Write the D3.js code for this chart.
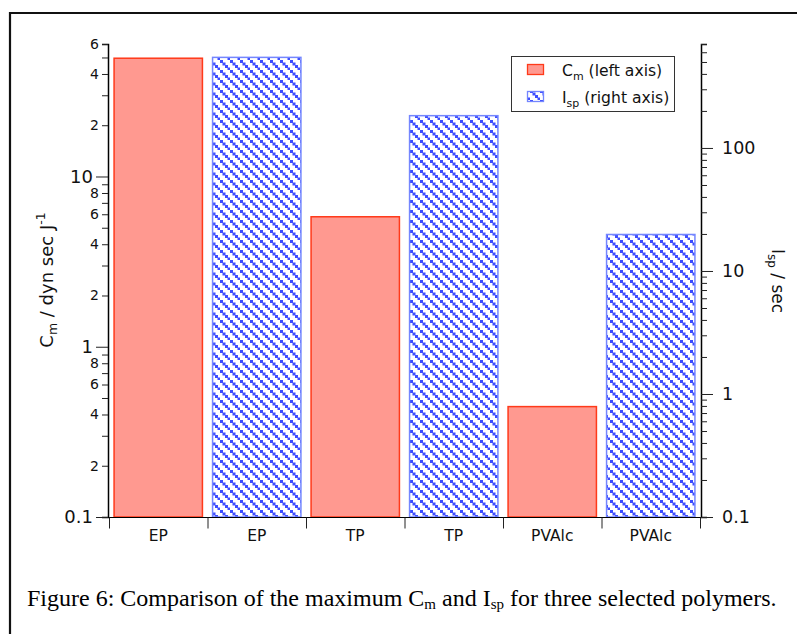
<!DOCTYPE html>
<html>
<head>
<meta charset="utf-8">
<script src="https://cdn.jsdelivr.net/npm/d3@7"></script>
<style>
  html, body { margin: 0; padding: 0; background: #fff; }
  svg { display: block; }
</style>
</head>
<body>
<svg id="chart" width="797" height="634"></svg>
<script>
// ---- data ----
const polymers = ["EP", "TP", "PVAlc"];
const cmValues = [49.5, 5.8, 0.445];      // left axis, dyn sec J^-1
const ispValues = [545, 183, 19.8];       // right axis, sec
const leftMajorTicks = [0.1, 1, 10];
const leftMinorLabeled = [2, 4, 6, 8];
const rightMajorTicks = [0.1, 1, 10, 100];
const captionText = ["Figure 6: Comparison of the maximum C", "m", " and I", "sp", " for three selected polymers."];

// categories: each polymer twice (Cm bar then Isp bar)
const bars = [];
polymers.forEach((p, i) => {
  bars.push({ label: p, series: "cm", value: cmValues[i] });
  bars.push({ label: p, series: "isp", value: ispValues[i] });
});

const svg = d3.select("#chart");
const FONT = "'DejaVu Sans', 'Liberation Sans', sans-serif";

const plot = { left: 108, right: 701, top: 44, bottom: 517 };

const x = d3.scaleBand().domain(d3.range(bars.length))
  .range([plot.left + 1, plot.right - 1]).paddingInner(0.103).paddingOuter(0.0515);
const xEdges = d3.scaleLinear().domain([0, bars.length]).range([plot.left + 1, plot.right - 1]);
const yL = d3.scaleLog().domain([0.1, 60]).range([plot.bottom, plot.top]);
const yR = d3.scaleLog().domain([0.1, 700]).range([plot.bottom, plot.top]);

// hatch pattern
const defs = svg.append("defs");
const pat = defs.append("pattern").attr("id", "hatch").attr("patternUnits", "userSpaceOnUse")
  .attr("width", 10).attr("height", 10);
pat.append("rect").attr("width", 10).attr("height", 10).attr("fill", "#fff");
[-2.5, 0, 2.5, 5, 7.5].forEach(o => pat.append("rect").attr("x", o).attr("y", o).attr("width", 3).attr("height", 3)
  .attr("fill", "#3c4cff"));

// frame
svg.append("path").attr("d", "M10,640 L10,13 L800,13").attr("fill", "none")
  .attr("stroke", "#111").attr("stroke-width", 2.2);

// bars
const barColor = { cm: { fill: "#ff9990", stroke: "#ff3a1a" }, isp: { fill: "url(#hatch)", stroke: "#7486ff" } };
svg.append("g").selectAll("rect").data(bars).join("rect")
  .attr("x", (d, i) => x(i))
  .attr("width", x.bandwidth())
  .attr("y", d => (d.series === "cm" ? yL : yR)(d.value))
  .attr("height", d => plot.bottom - (d.series === "cm" ? yL : yR)(d.value))
  .attr("fill", d => barColor[d.series].fill)
  .attr("stroke", d => barColor[d.series].stroke)
  .attr("stroke-width", 1.5);

// left axis
function logTicks(dom) {
  const t = [];
  for (let e = -1; e < 4; e++) for (let m = 1; m < 10; m++) {
    const v = +(m * Math.pow(10, e)).toPrecision(3);
    if (v >= dom[0] - 1e-9 && v <= dom[1] + 1e-9) t.push(v);
  }
  return t;
}
const isMajor = (v, majors) => majors.some(m => Math.abs(m - v) / m < 1e-6);
const leadDigit = v => Math.round(v / Math.pow(10, Math.floor(Math.log10(v) + 1e-9)));

const gL = svg.append("g").attr("transform", `translate(${plot.left},0)`)
  .call(d3.axisLeft(yL).tickValues(logTicks(yL.domain())).tickSize(6).tickPadding(3)
    .tickFormat(v => isMajor(v, leftMajorTicks) ? String(v) :
      (leftMinorLabeled.includes(leadDigit(v)) ? String(leadDigit(v)) : "")));
gL.select(".domain").attr("stroke", "#000").attr("stroke-width", 1.5);
gL.selectAll(".tick line").attr("stroke", "#222");
gL.selectAll(".tick").filter(v => isMajor(v, leftMajorTicks)).select("line").attr("x2", -12);
gL.selectAll(".tick text").attr("font-family", FONT).attr("fill", "#111").attr("font-size", 14);
gL.selectAll(".tick").filter(v => isMajor(v, leftMajorTicks)).select("text")
  .attr("font-size", 18).attr("x", -15);

// right axis
const gR = svg.append("g").attr("transform", `translate(${plot.right},0)`)
  .call(d3.axisRight(yR).tickValues(logTicks(yR.domain())).tickSize(6).tickPadding(9)
    .tickFormat(v => isMajor(v, rightMajorTicks) ? String(v) : ""));
gR.select(".domain").attr("stroke", "#000").attr("stroke-width", 1.5);
gR.selectAll(".tick line").attr("stroke", "#222");
gR.selectAll(".tick").filter(v => isMajor(v, rightMajorTicks)).select("line").attr("x2", 12);
gR.selectAll(".tick text").attr("font-family", FONT).attr("fill", "#111").attr("font-size", 17.5);
gR.selectAll(".tick").filter(v => isMajor(v, rightMajorTicks)).select("text").attr("x", 21);

// bottom axis: labels at band centres, ticks at band edges
const gB = svg.append("g").attr("transform", `translate(0,${plot.bottom + 0.5})`)
  .call(d3.axisBottom(x).tickSize(0).tickPadding(12).tickFormat(i => bars[i].label));
gB.select(".domain").attr("d", `M${plot.left},0H${plot.right}`).attr("stroke", "#000").attr("stroke-width", 1.2);
gB.selectAll(".tick text").attr("font-family", FONT).attr("font-size", 15.5).attr("fill", "#111");
svg.append("g").attr("transform", `translate(0,${plot.bottom + 0.5})`)
  .call(d3.axisBottom(xEdges).tickValues(d3.range(bars.length + 1)).tickSize(11).tickFormat(""))
  .call(g => g.select(".domain").remove())
  .selectAll(".tick line").attr("stroke", "#222");

// axis titles
const tL = svg.append("text").attr("font-family", FONT).attr("font-size", 18).attr("fill", "#111")
  .attr("text-anchor", "middle").attr("transform", "translate(53,280) rotate(-90)");
tL.append("tspan").text("C");
tL.append("tspan").attr("font-size", 12.5).attr("dy", 4).text("m");
tL.append("tspan").attr("dy", -4).text(" / dyn sec J");
tL.append("tspan").attr("font-size", 12.5).attr("dy", -8).text("-1");

const tR = svg.append("text").attr("font-family", FONT).attr("font-size", 17).attr("fill", "#111")
  .attr("text-anchor", "middle").attr("transform", "translate(772,281) rotate(90)");
tR.append("tspan").text("I");
tR.append("tspan").attr("font-size", 12).attr("dy", 4).text("sp");
tR.append("tspan").attr("dy", -4).text(" / sec");

// legend
const lg = svg.append("g");
lg.append("rect").attr("x", 511.5).attr("y", 56.5).attr("width", 163).attr("height", 55)
  .attr("fill", "#fff").attr("stroke", "#333").attr("stroke-width", 1);
const legendItems = [
  { series: "cm", main: "C", sub: "m", rest: " (left axis)" },
  { series: "isp", main: "I", sub: "sp", rest: " (right axis)" }
];
legendItems.forEach((it, k) => {
  const yy = 64 + k * 27;
  lg.append("rect").attr("x", 527.5).attr("y", yy + 0.5).attr("width", 16).attr("height", 10)
    .attr("fill", barColor[it.series].fill).attr("stroke", barColor[it.series].stroke).attr("stroke-width", 1.3);
  const t = lg.append("text").attr("x", 562).attr("y", yy + 12).attr("font-family", FONT)
    .attr("font-size", 15.6).attr("fill", "#111");
  t.append("tspan").text(it.main);
  t.append("tspan").attr("font-size", 11).attr("dy", 4).text(it.sub);
  t.append("tspan").attr("dy", -4).text(it.rest);
});

// caption
const cap = svg.append("text").attr("x", 27).attr("y", 606).attr("font-family", "'Liberation Serif', 'Times New Roman', serif")
  .attr("font-size", 24).attr("fill", "#000");
captionText.forEach((s, i) => {
  const sp = cap.append("tspan").text(s);
  if (i % 2 === 1) sp.attr("font-size", 15).attr("dy", 3);
  else if (i > 0) sp.attr("dy", -3);
});
</script>
</body>
</html>
